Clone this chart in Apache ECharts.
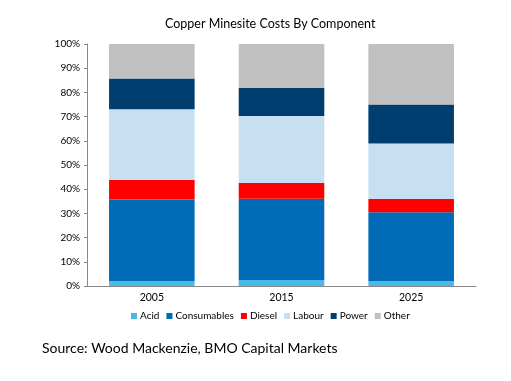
<!DOCTYPE html>
<html><head><meta charset="utf-8">
<script src="https://cdn.jsdelivr.net/npm/echarts@6/dist/echarts.min.js"></script>
<style>html,body{margin:0;padding:0;background:#fff}#c{width:511px;height:381px}</style>
</head><body><div id="c"></div>
<script>
var categories = ['2005', '2015', '2025'];
var acid = [2.0, 2.5, 2.1];
var consumables = [33.7, 33.6, 28.4];
var diesel = [8.2, 6.5, 5.4];
var labour = [29.1, 27.6, 23.0];
var power = [12.7, 11.6, 16.1];
var other = [14.3, 18.2, 25.0];
var seriesNames = ['Acid', 'Consumables', 'Diesel', 'Labour', 'Power', 'Other'];
var seriesData = [acid, consumables, diesel, labour, power, other];
var colors = ['#4cb8e8', '#006cb7', '#ff0000', '#c6dff1', '#003e70', '#c0c0c0'];
var FONT = 'Lato';
var chart = echarts.init(document.getElementById('c'));
chart.setOption({
  animation: false,
  color: colors,
  title: {
    text: 'Copper Minesite Costs By Component',
    left: 160, top: 12,
    textStyle: {fontFamily: FONT, fontSize: 12.5, fontWeight: 'normal', color: '#000'}
  },
  graphic: [{
    type: 'text', left: 42, top: 341,
    style: {text: 'Source: Wood Mackenzie, BMO Capital Markets', font: '14px ' + FONT, fill: '#000'}
  }],
  legend: {
    bottom: 55, left: 126,
    itemWidth: 6, itemHeight: 6, itemGap: 7,
    icon: 'rect',
    textStyle: {fontFamily: FONT, fontSize: 10, color: '#000', padding: [0, 0, 0, -2]},
    data: seriesNames
  },
  grid: {left: 87, right: 35, top: 44, bottom: 95, containLabel: false},
  xAxis: {
    type: 'category', data: categories,
    axisLine: {lineStyle: {color: '#888'}},
    axisTick: {length: 3, lineStyle: {color: '#888'}},
    axisLabel: {fontFamily: FONT, fontSize: 10.5, color: '#000', margin: 6}
  },
  yAxis: {
    type: 'value', min: 0, max: 100, interval: 10,
    axisLine: {show: true, lineStyle: {color: '#888'}},
    axisTick: {show: true, length: 3, lineStyle: {color: '#888'}},
    splitLine: {show: false},
    axisLabel: {formatter: '{value}%', fontFamily: FONT, fontSize: 10, color: '#000', margin: 7}
  },
  series: seriesNames.map(function (n, i) {
    return {name: n, type: 'bar', stack: 'total', barWidth: '66%', data: seriesData[i]};
  })
});
</script></body></html>
